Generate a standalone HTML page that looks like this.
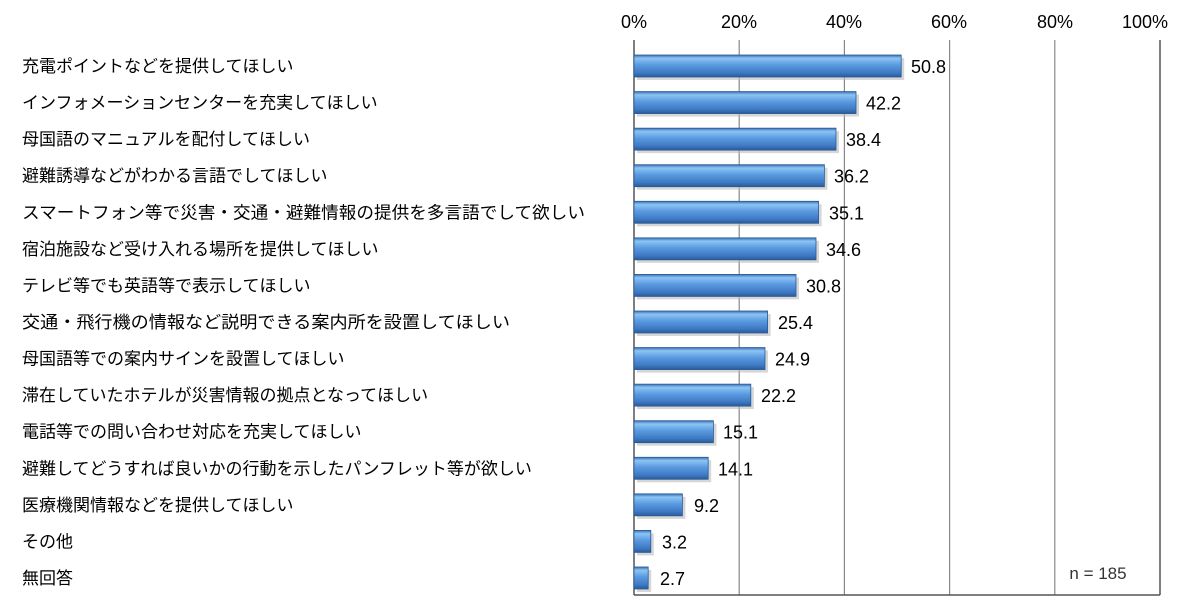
<!DOCTYPE html>
<html><head><meta charset="utf-8"><style>
body{margin:0;width:1200px;height:600px;background:#fff;overflow:hidden;}
</style></head><body>
<svg width="1200" height="600" xmlns="http://www.w3.org/2000/svg" font-family="Liberation Sans, Noto Sans CJK JP, sans-serif">
<defs>
<linearGradient id="g" x1="0" y1="0" x2="0" y2="1">
<stop offset="0" stop-color="#3a70b4"/>
<stop offset="0.15" stop-color="#8cc4f4"/>
<stop offset="0.45" stop-color="#5a9ae0"/>
<stop offset="0.8" stop-color="#3f7ac4"/>
<stop offset="1" stop-color="#2a5a98"/>
</linearGradient>
</defs>
<g stroke="#888" stroke-width="1.2">
<line x1="739.2" y1="40" x2="739.2" y2="595"/>
<line x1="844.4" y1="40" x2="844.4" y2="595"/>
<line x1="949.6" y1="40" x2="949.6" y2="595"/>
<line x1="1054.8" y1="40" x2="1054.8" y2="595"/>
</g>
<g stroke="#555" stroke-width="1.5" fill="none">
<line x1="634" y1="40" x2="634" y2="595"/>
<line x1="1160" y1="40" x2="1160" y2="595"/>
<line x1="634" y1="595" x2="1160" y2="595"/>
</g>
<g font-size="18" fill="#000" text-anchor="middle">
<text x="634" y="28">0%</text><text x="739" y="28">20%</text><text x="844" y="28">40%</text><text x="949" y="28">60%</text><text x="1055" y="28">80%</text><text x="1145" y="28">100%</text>
</g>
<g font-size="17" fill="#000">
<g transform="translate(0,66)"><text x="22" y="6">充電ポイントなどを提供してほしい</text><rect x="637" y="-8" width="267.2" height="22" fill="#bbb" opacity="0.6"/><rect x="634" y="-11" width="267.2" height="22" fill="url(#g)" stroke="#2a5a98" stroke-width="0.8"/><text x="911" y="7" font-size="18">50.8</text></g>
<g transform="translate(0,102.57)"><text x="22" y="6">インフォメーションセンターを充実してほしい</text><rect x="637" y="-8" width="222" height="22" fill="#bbb" opacity="0.6"/><rect x="634" y="-11" width="222" height="22" fill="url(#g)" stroke="#2a5a98" stroke-width="0.8"/><text x="866" y="7" font-size="18">42.2</text></g>
<g transform="translate(0,139.14)"><text x="22" y="6">母国語のマニュアルを配付してほしい</text><rect x="637" y="-8" width="202" height="22" fill="#bbb" opacity="0.6"/><rect x="634" y="-11" width="202" height="22" fill="url(#g)" stroke="#2a5a98" stroke-width="0.8"/><text x="846" y="7" font-size="18">38.4</text></g>
<g transform="translate(0,175.71)"><text x="22" y="6">避難誘導などがわかる言語でしてほしい</text><rect x="637" y="-8" width="190.4" height="22" fill="#bbb" opacity="0.6"/><rect x="634" y="-11" width="190.4" height="22" fill="url(#g)" stroke="#2a5a98" stroke-width="0.8"/><text x="834" y="7" font-size="18">36.2</text></g>
<g transform="translate(0,212.28)"><text x="22" y="6" textLength="563" lengthAdjust="spacingAndGlyphs">スマートフォン等で災害・交通・避難情報の提供を多言語でして欲しい</text><rect x="637" y="-8" width="184.6" height="22" fill="#bbb" opacity="0.6"/><rect x="634" y="-11" width="184.6" height="22" fill="url(#g)" stroke="#2a5a98" stroke-width="0.8"/><text x="829" y="7" font-size="18">35.1</text></g>
<g transform="translate(0,248.85)"><text x="22" y="6">宿泊施設など受け入れる場所を提供してほしい</text><rect x="637" y="-8" width="182" height="22" fill="#bbb" opacity="0.6"/><rect x="634" y="-11" width="182" height="22" fill="url(#g)" stroke="#2a5a98" stroke-width="0.8"/><text x="826" y="7" font-size="18">34.6</text></g>
<g transform="translate(0,285.42)"><text x="22" y="6">テレビ等でも英語等で表示してほしい</text><rect x="637" y="-8" width="162" height="22" fill="#bbb" opacity="0.6"/><rect x="634" y="-11" width="162" height="22" fill="url(#g)" stroke="#2a5a98" stroke-width="0.8"/><text x="806" y="7" font-size="18">30.8</text></g>
<g transform="translate(0,321.99)"><text x="22" y="6" textLength="488" lengthAdjust="spacingAndGlyphs">交通・飛行機の情報など説明できる案内所を設置してほしい</text><rect x="637" y="-8" width="133.6" height="22" fill="#bbb" opacity="0.6"/><rect x="634" y="-11" width="133.6" height="22" fill="url(#g)" stroke="#2a5a98" stroke-width="0.8"/><text x="778" y="7" font-size="18">25.4</text></g>
<g transform="translate(0,358.56)"><text x="22" y="6">母国語等での案内サインを設置してほしい</text><rect x="637" y="-8" width="131" height="22" fill="#bbb" opacity="0.6"/><rect x="634" y="-11" width="131" height="22" fill="url(#g)" stroke="#2a5a98" stroke-width="0.8"/><text x="775" y="7" font-size="18">24.9</text></g>
<g transform="translate(0,395.13)"><text x="22" y="6">滞在していたホテルが災害情報の拠点となってほしい</text><rect x="637" y="-8" width="116.8" height="22" fill="#bbb" opacity="0.6"/><rect x="634" y="-11" width="116.8" height="22" fill="url(#g)" stroke="#2a5a98" stroke-width="0.8"/><text x="761" y="7" font-size="18">22.2</text></g>
<g transform="translate(0,431.7)"><text x="22" y="6">電話等での問い合わせ対応を充実してほしい</text><rect x="637" y="-8" width="79.4" height="22" fill="#bbb" opacity="0.6"/><rect x="634" y="-11" width="79.4" height="22" fill="url(#g)" stroke="#2a5a98" stroke-width="0.8"/><text x="723" y="7" font-size="18">15.1</text></g>
<g transform="translate(0,468.27)"><text x="22" y="6">避難してどうすれば良いかの行動を示したパンフレット等が欲しい</text><rect x="637" y="-8" width="74.2" height="22" fill="#bbb" opacity="0.6"/><rect x="634" y="-11" width="74.2" height="22" fill="url(#g)" stroke="#2a5a98" stroke-width="0.8"/><text x="718" y="7" font-size="18">14.1</text></g>
<g transform="translate(0,504.84)"><text x="22" y="6">医療機関情報などを提供してほしい</text><rect x="637" y="-8" width="48.4" height="22" fill="#bbb" opacity="0.6"/><rect x="634" y="-11" width="48.4" height="22" fill="url(#g)" stroke="#2a5a98" stroke-width="0.8"/><text x="694" y="7" font-size="18">9.2</text></g>
<g transform="translate(0,541.41)"><text x="22" y="6">その他</text><rect x="637" y="-8" width="16.8" height="22" fill="#bbb" opacity="0.6"/><rect x="634" y="-11" width="16.8" height="22" fill="url(#g)" stroke="#2a5a98" stroke-width="0.8"/><text x="662" y="7" font-size="18">3.2</text></g>
<g transform="translate(0,577.98)"><text x="22" y="6">無回答</text><rect x="637" y="-8" width="14.2" height="22" fill="#bbb" opacity="0.6"/><rect x="634" y="-11" width="14.2" height="22" fill="url(#g)" stroke="#2a5a98" stroke-width="0.8"/><text x="660" y="7" font-size="18">2.7</text></g>
</g>
<text x="1098" y="579" font-size="17" fill="#333" text-anchor="middle">n = 185</text>
</svg>
</body></html>
